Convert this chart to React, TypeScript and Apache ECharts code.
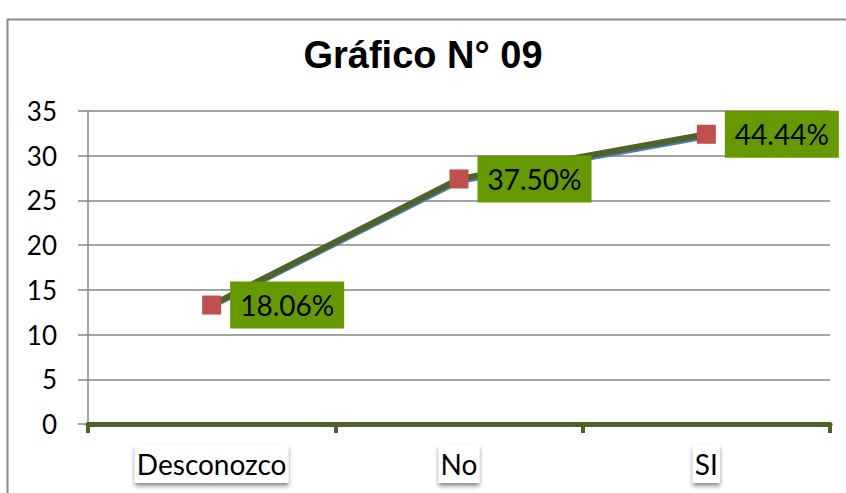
import React, { useEffect, useRef } from "react";
import * as echarts from "echarts";

const categories = ["Desconozco", "No", "SI"];
const countValues = [13, 27, 32];
const shadowValues = [13.3, 27.4, 32.4];
const percentLabels = ["18.06%", "37.50%", "44.44%"];
const yTicks = [0, 5, 10, 15, 20, 25, 30, 35];

export default function App() {
  const ref = useRef<HTMLDivElement>(null);
  useEffect(() => {
    if (!ref.current) return;
    const chart = echarts.init(ref.current, null, { renderer: "svg" });
    chart.setOption({
      animation: false,
      backgroundColor: "#ffffff",
      title: {
        text: "Gráfico N° 09",
        left: "center",
        top: 31,
        textStyle: {
          fontFamily: "'Liberation Sans', Arial, sans-serif",
          fontWeight: "bold",
          fontSize: 38,
          color: "#000",
        },
      },
      graphic: [
        {
          type: "polyline",
          shape: { points: [[7.5, 600], [7.5, 19.5], [900, 19.5]] },
          style: { stroke: "#8c8c8c", lineWidth: 2, fill: "none" },
          silent: true,
        },
      ],
      grid: { left: 88, right: 16, top: 111, bottom: 69, containLabel: false },
      xAxis: {
        type: "category",
        data: categories,
        boundaryGap: true,
        z: 5,
        axisLine: {
          show: true,
          onZero: false,
          lineStyle: { color: "#4F6228", width: 5 },
        },
        axisTick: {
          show: true,
          inside: false,
          length: 9,
          lineStyle: { color: "#4F6228", width: 4 },
        },
        axisLabel: {
          margin: 21,
          fontFamily: "Lato, 'Open Sans', sans-serif",
          fontSize: 28,
          lineHeight: 30,
          color: "#000",
          backgroundColor: "#ffffff",
          padding: [4, 2, 4, 2],
          shadowColor: "rgba(0,0,0,0.45)",
          shadowBlur: 4,
          shadowOffsetY: 3,
        },
        splitLine: { show: false },
      },
      yAxis: {
        type: "value",
        min: 0,
        max: 35,
        interval: 5,
        axisLine: { show: true, lineStyle: { color: "#868686", width: 1.5 } },
        axisTick: { show: true, length: 10, lineStyle: { color: "#868686", width: 1.5 } },
        axisLabel: {
          margin: 31,
          fontFamily: "Lato, 'Open Sans', sans-serif",
          fontSize: 26,
          color: "#000",
          formatter: (v: number) => (yTicks.includes(v) ? String(v) : ""),
        },
        splitLine: { show: true, showMinLine: false, lineStyle: { color: "#868686", width: 1.5 } },
      },
      series: [
        {
          type: "line",
          data: countValues,
          symbol: "diamond",
          symbolSize: 12,
          lineStyle: { color: "#4A7EBB", width: 3 },
          itemStyle: { color: "#4A7EBB" },
          z: 2,
        },
        {
          type: "line",
          data: shadowValues,
          symbol: "rect",
          symbolSize: 19,
          lineStyle: { color: "#4F6228", width: 6 },
          itemStyle: { color: "#C0504D" },
          z: 3,
          label: {
            show: true,
            position: "right",
            distance: 9,
            formatter: (p: any) => percentLabels[p.dataIndex],
            fontFamily: "Lato, 'Open Sans', sans-serif",
            fontSize: 28,
            lineHeight: 29,
            color: "#000",
            backgroundColor: "#669900",
            padding: [9, 10, 9, 10],
          },
        },
      ],
    });
    return () => chart.dispose();
  }, []);
  return (
    <div
      ref={ref}
      style={{ position: "fixed", left: 0, top: 0, width: 846, height: 493 }}
    />
  );
}
